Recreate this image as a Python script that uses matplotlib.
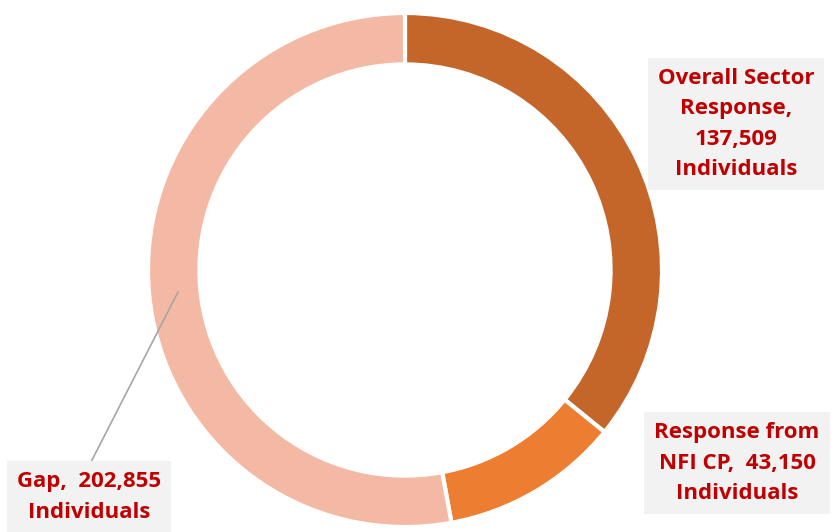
import matplotlib
import matplotlib.pyplot as plt

matplotlib.use('Agg')

labels = ['Overall Sector\nResponse,\n137,509\nIndividuals',
          'Response from\nNFI CP,  43,150\nIndividuals',
          'Gap,  202,855\nIndividuals']
values = [137509, 43150, 202855]
colors = ['#C4652A', '#ED7D31', '#F4B9A4']

W, H = 835, 532
cx, cy, R = 405, 270, 257

fig = plt.figure(figsize=(W / 100, H / 100), dpi=100)
ax = fig.add_axes([0, 0, 1, 1])

ax.pie(values, colors=colors, startangle=90, counterclock=False, radius=1,
       wedgeprops=dict(width=0.2, edgecolor='white', linewidth=3))

ax.set_xlim(-cx / R, (W - cx) / R)
ax.set_ylim(-(H - cy) / R, cy / R)
ax.set_aspect('equal')
ax.axis('off')

def px(x, y):
    return (x - cx) / R, (cy - y) / R

box = dict(boxstyle='square,pad=0.45', facecolor='#F2F2F2', edgecolor='none')
pos = [(736, 124), (737, 463), (89, 497)]
for lab, (x, y) in zip(labels, pos):
    ax.text(*px(x, y), lab, ha='center', va='center', color='#C00000',
            fontsize=16, fontweight='bold', family='Open Sans',
            linespacing=1.6, bbox=box)

ax.plot(*zip(px(178, 292), px(91, 462)), color='#A6A6A6', lw=1.2)

fig.savefig('out.png', dpi=100)
